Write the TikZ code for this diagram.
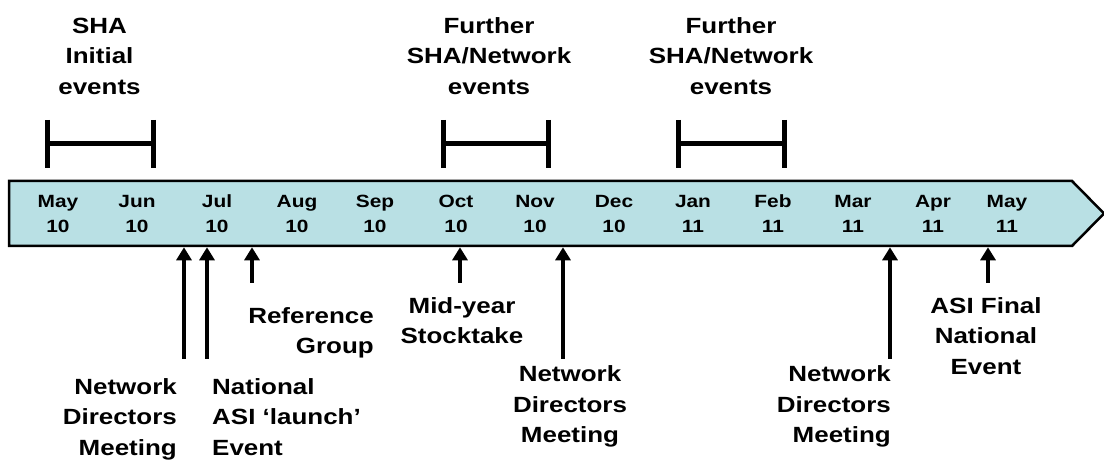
\documentclass[tikz,border=0pt]{standalone}
\usepackage{fontspec}
\newfontfamily\lblfont[FakeStretch=1.18]{Liberation Sans}
\usetikzlibrary{arrows.meta}
\definecolor{bandblue}{RGB}{185,224,228}
\tikzset{
  bandline/.style={draw=black, line width=2.5pt, fill=bandblue},
  month/.style={font=\lblfont\bfseries\fontsize{17.7}{25.5}\selectfont,
    align=center, anchor=north, inner sep=0pt},
  evlabel/.style={font=\lblfont\bfseries\fontsize{22}{30.5}\selectfont,
    inner sep=0pt},
  evarrow/.style={line width=4pt, -{Triangle[width=15pt,length=13pt]}},
  bracket/.style={line width=5pt}
}
\newcommand{\fl}[1]{\rule{0pt}{#1}}
\begin{document}
\begin{tikzpicture}[x=1pt,y=-1pt]
\useasboundingbox (0,0) rectangle (1104,462);

% timeline band
\draw[bandline] (9,181) -- (1072,181) -- (1104,213.5) -- (1072,246) -- (9,246) -- cycle;
\coordinate (bandS) at (556,247.3);

% months
\foreach \x/\m/\yr [count=\i] in {58/May/10,137/Jun/10,217/Jul/10,297/Aug/10,
  375/Sep/10,456/Oct/10,535/Nov/10,614/Dec/10,693/Jan/11,773/Feb/11,
  853/Mar/11,933/Apr/11,1007/May/11}
  \node[month] (m\i) at (\x,193.3) {\fl{13.7pt}\m\\\yr};

% top labels and brackets
\node[evlabel, align=center, anchor=north] (t1) at (99.5,16.3) {\fl{17pt}SHA\\Initial\\events};
\node[evlabel, align=center, anchor=north] (t2) at (489,16.3) {\fl{17pt}Further\\SHA/Network\\events};
\node[evlabel, align=center, anchor=north] (t3) at (731,16.3) {\fl{17pt}Further\\SHA/Network\\events};

\coordinate (b1l) at (47,144);  \coordinate (b1r) at (153,144);
\coordinate (b2l) at (443,144); \coordinate (b2r) at (548,144);
\coordinate (b3l) at (678,144); \coordinate (b3r) at (784.5,144);
\foreach \b in {1,2,3}
  \draw[bracket] (b\b l) -- (b\b r)
    (b\b l) ++(0,-24) -- ++(0,48)
    (b\b r) ++(0,-24) -- ++(0,48);

% event labels
\node[evlabel, align=right, anchor=north east] (e1) at (177,377) {\fl{17pt}Network\\Directors\\Meeting};
\node[evlabel, align=left, anchor=north west] (e2) at (212,377) {\fl{17pt}National\\ASI ‘launch’\\Event};
\node[evlabel, align=right, anchor=north east] (e3) at (374,306.3) {\fl{17pt}Reference\\Group};
\node[evlabel, align=center, anchor=north] (e4) at (462,296.3) {\fl{17pt}Mid-year\\Stocktake};
\node[evlabel, align=center, anchor=north] (e5) at (570,364.7) {\fl{17pt}Network\\Directors\\Meeting};
\node[evlabel, align=right, anchor=north east] (e6) at (891,364.7) {\fl{17pt}Network\\Directors\\Meeting};
\node[evlabel, align=center, anchor=north] (e7) at (986,296.3) {\fl{17pt}ASI Final\\National\\Event};

% arrow free ends
\coordinate (a1) at (184,359);
\coordinate (a2) at (207,359);
\coordinate (a3) at (252,283);
\coordinate (a4) at (460,283);
\coordinate (a5) at (563,359);
\coordinate (a6) at (890,359);
\coordinate (a7) at (988,283);
\foreach \a in {1,...,7}
  \draw[evarrow] (a\a) -- (a\a |- bandS);
\end{tikzpicture}
\end{document}
